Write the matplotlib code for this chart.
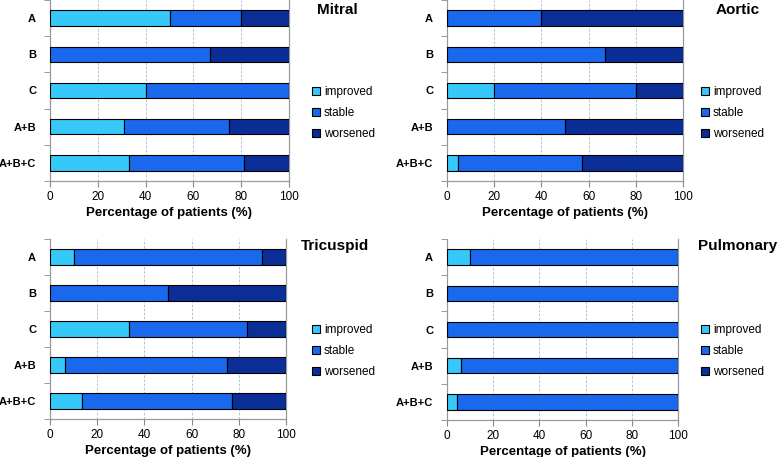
import matplotlib
matplotlib.use("Agg")
import matplotlib.pyplot as plt
from matplotlib.patches import Patch
import numpy as np

plt.rcParams['font.family'] = ['Liberation Sans', 'DejaVu Sans']

categories = ["A", "B", "C", "A+B", "A+B+C"]
series_names = ["improved", "stable", "worsened"]
colors = ["#36C8F8", "#1A68EC", "#0B2E96"]

mitral_improved = [50, 0, 40, 31, 33]
mitral_stable = [30, 67, 60, 44, 48]
mitral_worsened = [20, 33, 0, 25, 19]

aortic_improved = [0, 0, 20, 0, 4.8]
aortic_stable = [40, 67, 60, 50, 52.4]
aortic_worsened = [60, 33, 20, 50, 42.8]

tricuspid_improved = [10, 0, 33.3, 6.3, 13.5]
tricuspid_stable = [80, 50, 50, 68.7, 63.8]
tricuspid_worsened = [10, 50, 16.7, 25, 22.7]

pulmonary_improved = [10, 0, 0, 6, 4.5]
pulmonary_stable = [90, 100, 100, 94, 95.5]
pulmonary_worsened = [0, 0, 0, 0, 0]

xticks = [0, 20, 40, 60, 80, 100]
xlabel = "Percentage of patients (%)"

W, H = 778, 457
fig = plt.figure(figsize=(W / 100, H / 100), dpi=100)

panels = [
    ("Mitral", [mitral_improved, mitral_stable, mitral_worsened],
     (50, 289, 0, 181), (317, 10), (312, 113)),
    ("Aortic", [aortic_improved, aortic_stable, aortic_worsened],
     (447, 683, 0, 181), (716, 10), (701, 113)),
    ("Tricuspid", [tricuspid_improved, tricuspid_stable, tricuspid_worsened],
     (50, 286, 239, 419), (301, 246), (312, 351)),
    ("Pulmonary", [pulmonary_improved, pulmonary_stable, pulmonary_worsened],
     (447, 678, 239, 420), (698, 246), (701, 351)),
]

for title, vals, (l, r, t, b), (tx, ty), (lx, ly) in panels:
    ax = fig.add_axes([l / W, 1 - b / H, (r - l) / W, (b - t) / H])
    y = np.arange(len(categories))
    left = np.zeros(len(categories))
    for name, v, c in zip(series_names, vals, colors):
        v = np.array(v, dtype=float)
        ax.barh(y, v, left=left, height=0.42, color=c, edgecolor="black",
                linewidth=0.8, label=name, zorder=3)
        left += v
    ax.set_xlim(0, 100)
    ax.set_ylim(len(categories) - 0.5, -0.5)
    ax.set_xticks(xticks)
    ax.set_xticklabels([str(x) for x in xticks], fontsize=8.5)
    ax.set_yticks(y)
    ax.set_yticklabels(categories, fontsize=8, fontweight="bold")
    ax.set_yticks(np.arange(len(categories) + 1) - 0.5, minor=True)
    ax.tick_params(axis="y", which="major", length=0, pad=10)
    ax.tick_params(axis="y", which="minor", length=4, color="#888888", direction="out")
    ax.tick_params(axis="x", which="major", length=4, color="#888888", direction="out", pad=3)
    ax.grid(axis="x", color="#A8B8D0", linestyle=(0, (3, 2)), linewidth=0.6, zorder=0)
    for s in ax.spines.values():
        s.set_color("#999999")
        s.set_linewidth(0.9)
    ax.spines["top"].set_visible(False)
    ax.set_xlabel(xlabel, fontsize=9.5, fontweight="bold", labelpad=3)
    fig.text(tx / W, 1 - ty / H, title, fontsize=11, fontweight="bold",
             ha="left", va="center")
    handles = [Patch(facecolor=c, edgecolor="black", linewidth=0.8, label=n)
               for n, c in zip(series_names, colors)]
    fig.legend(handles=handles, loc="center left", bbox_to_anchor=(lx / W, 1 - ly / H),
               frameon=False, fontsize=8.5, handlelength=0.7, handleheight=0.7,
               handletextpad=0.3, labelspacing=0.75, borderpad=0, borderaxespad=0)

fig.savefig("out.png", dpi=100)
